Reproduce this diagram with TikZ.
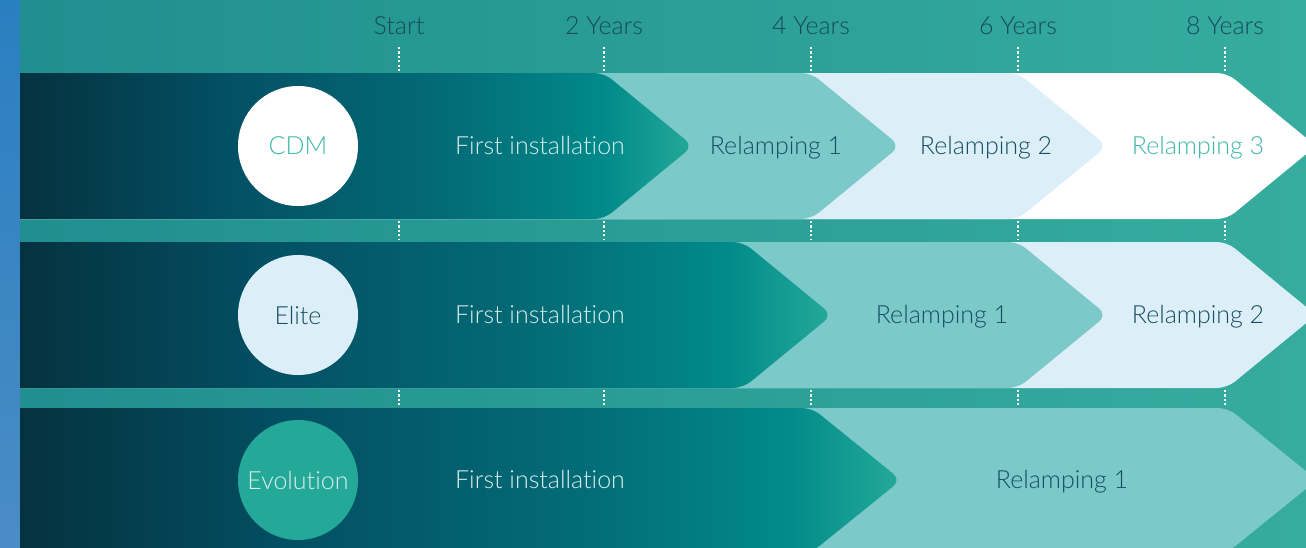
\documentclass[tikz,border=0pt]{standalone}
\usepackage{fontspec}
\setmainfont{Lato Light}[Ligatures=NoCommon]
\definecolor{bgL}{HTML}{1F8F8F}
\definecolor{bgR}{HTML}{36AC9E}
\definecolor{stripT}{HTML}{2A7FC0}
\definecolor{stripB}{HTML}{4A8CC6}
\definecolor{fa}{HTML}{05323F}
\definecolor{fb}{HTML}{034F63}
\definecolor{fc}{HTML}{036C77}
\definecolor{fd}{HTML}{018A8A}
\definecolor{fe}{HTML}{25A998}
\definecolor{relA}{HTML}{7BC9C8}
\definecolor{relB}{HTML}{DCEEF7}
\definecolor{relC}{HTML}{FFFFFF}
\definecolor{txtDark}{HTML}{174F62}
\definecolor{txtLight}{HTML}{D9EEEE}
\definecolor{txtTeal}{HTML}{3DB9A8}
\definecolor{topTxt}{HTML}{154C5C}
\definecolor{evo}{HTML}{24A898}
\pgfdeclarehorizontalshading{firstinst}{100bp}{color(0bp)=(fa); color(25bp)=(fa); color(40bp)=(fb); color(57bp)=(fc); color(68.5bp)=(fd); color(75bp)=(fe); color(100bp)=(fe)}
\tikzset{
  lbl/.style={font=\fontsize{25}{30}\selectfont, inner sep=0pt, anchor=base},
  tick/.style={draw=white, line width=2.2pt, dash pattern=on 2.2pt off 2.2pt},
  badge/.style={circle, minimum size=120pt, inner sep=0pt, font=\fontsize{25}{30}\selectfont},
}
\newcommand{\chev}[6]{% fill, x0, flat, tip, top, bottom
  \fill[#1] (#2,#5) [rounded corners=10pt] -- (#3,#5) -- (#4,{(#5+#6)/2}) -- (#3,#6) [sharp corners] -- (#2,#6) -- cycle;}
\newcommand{\chevsh}[5]{% x0, flat, tip, top, bottom
  \path[shading=firstinst] (#1,#4) [rounded corners=10pt] -- (#2,#4) -- (#3,{(#4+#5)/2}) -- (#2,#5) [sharp corners] -- (#1,#5) -- cycle;}
\begin{document}
\begin{tikzpicture}[x=1pt,y=-1pt]
\useasboundingbox (0,0) rectangle (1306,547);
\begin{scope}
\clip (0,0) rectangle (1306,547);
% background
\fill[left color=bgL, right color=bgR] (20,0) rectangle (1306,547);
\fill[top color=stripT, bottom color=stripB] (0,0) rectangle (20,547);
% row 1
\chev{relC}{20}{1227}{1316}{73}{219}
\chev{relB}{20}{1018}{1107}{73}{219}
\chev{relA}{20}{811}{900}{73}{219}
\chevsh{20}{604}{693}{73}{219}
% row 2
\chev{relB}{20}{1227}{1316}{242}{388}
\chev{relA}{20}{1018}{1107}{242}{388}
\chevsh{20}{743}{832}{242}{388}
% row 3
\chev{relA}{20}{1228}{1317}{408}{552}
\chevsh{20}{812}{901}{408}{552}
\end{scope}
% ticks and years
\foreach \x/\t/\n in {399/Start/s0, 604/2 Years/s2, 811/4 Years/s4, 1018/6 Years/s6, 1225/8 Years/s8}{
  \node[lbl, text=topTxt] (y\n) at (\x,34) {\t};
  \draw[tick] (\x,47) -- (\x,72);
  \draw[tick] (\x,221) -- (\x,240);
  \draw[tick] (\x,390) -- (\x,407);
}
% badges
\node[badge, fill=white, text=txtTeal] (cdm) at (298,146) {CDM};
\node[badge, fill=relB, text=txtDark] (elite) at (298,315) {Elite};
\node[badge, fill=evo, text=txtLight] (evol) at (298,480) {Evolution};
% row labels
\node[lbl, text=txtLight] (r1a) at (540,154) {First installation};
\node[lbl, text=txtDark] (r1b) at (776,154) {Relamping 1};
\node[lbl, text=txtDark] (r1c) at (986,154) {Relamping 2};
\node[lbl, text=txtTeal] (r1d) at (1198,154) {Relamping 3};
\node[lbl, text=txtLight] (r2a) at (540,323) {First installation};
\node[lbl, text=txtDark] (r2b) at (942,323) {Relamping 1};
\node[lbl, text=txtDark] (r2c) at (1198,323) {Relamping 2};
\node[lbl, text=txtLight] (r3a) at (540,488) {First installation};
\node[lbl, text=txtDark] (r3b) at (1062,488) {Relamping 1};
\end{tikzpicture}
\end{document}
